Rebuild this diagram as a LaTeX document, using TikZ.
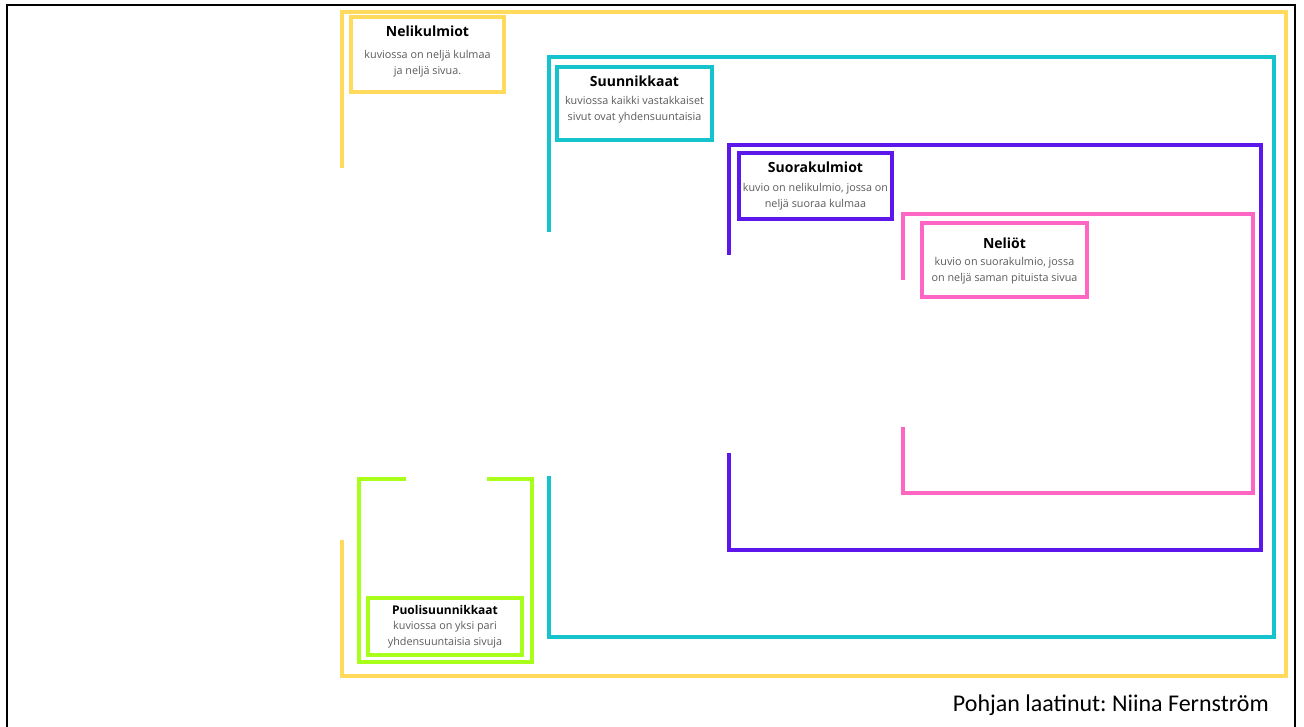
\documentclass[tikz,border=0pt]{standalone}
\usepackage{fontspec}
\setmainfont{Open Sans}
\newfontfamily\footfont{Carlito}
\frenchspacing
\definecolor{cyel}{HTML}{FFDA5C}
\definecolor{cteal}{HTML}{14C3CB}
\definecolor{cpurp}{HTML}{5E17EB}
\definecolor{cpink}{HTML}{FF66C4}
\definecolor{cgreen}{HTML}{A8FF1A}
\definecolor{cbody}{HTML}{5A5A5A}
\tikzset{
  frame/.style={line width=3pt, line cap=rect},
  box/.style={draw, line width=3pt, rectangle, inner sep=0pt},
  ttl/.style={font=\fontsize{10.5}{12}\selectfont\bfseries, text=black, inner sep=0pt},
  bdy/.style={font=\fontsize{8.1}{12}\selectfont, text=cbody, align=center, inner sep=0pt, anchor=north},
}
\begin{document}
\begin{tikzpicture}[x=0.75pt,y=-0.75pt]
\useasboundingbox (0,0) rectangle (1304,727);
% black frame
\draw[line width=2.2pt] (7,740) -- (7,5) -- (1295,5) -- (1295,740);
% yellow
\coordinate (y1) at (342,166); \coordinate (y2) at (342,542);
\draw[frame, cyel] (y1) -- (342,12) -- (1286,12) -- (1286,676) -- (342,676) -- (y2);
\node[box, draw=cyel, minimum width=153*0.75pt, minimum height=75*0.75pt] (bNel) at (427.5,54.5) {};
\node[ttl] (tNel) at (427.5,31) {Nelikulmiot};
\node[bdy] (dNel) at (427.5,50.5) {kuviossa on neljä kulmaa\\ja neljä sivua.};
% teal
\coordinate (t1) at (549,230); \coordinate (t2) at (549,478);
\draw[frame, cteal] (t1) -- (549,57) -- (1274,57) -- (1274,637) -- (549,637) -- (t2);
\node[box, draw=cteal, minimum width=155*0.75pt, minimum height=73*0.75pt] (bSuu) at (634.5,103.5) {};
\node[ttl] (tSuu) at (634.5,81) {Suunnikkaat};
\node[bdy] (dSuu) at (634.5,96.5) {kuviossa kaikki vastakkaiset\\sivut ovat yhdensuuntaisia};
% purple
\coordinate (p1) at (729,253); \coordinate (p2) at (729,455);
\draw[frame, cpurp] (p1) -- (729,145) -- (1261,145) -- (1261,550) -- (729,550) -- (p2);
\node[box, draw=cpurp, minimum width=153*0.75pt, minimum height=66*0.75pt] (bSuo) at (815.5,186) {};
\node[ttl] (tSuo) at (815.5,167) {Suorakulmiot};
\node[bdy] (dSuo) at (815.5,183.5) {kuvio on nelikulmio, jossa on\\neljä suoraa kulmaa};
% pink
\coordinate (k1) at (903,278); \coordinate (k2) at (903,429);
\draw[frame, cpink] (k1) -- (903,214) -- (1253,214) -- (1253,493) -- (903,493) -- (k2);
\node[box, draw=cpink, minimum width=165*0.75pt, minimum height=74*0.75pt] (bNe) at (1004.5,260) {};
\node[ttl] (tNe) at (1004.5,243) {Neliöt};
\node[bdy] (dNe) at (1004.5,257.5) {kuvio on suorakulmio, jossa\\on neljä saman pituista sivua};
% green
\coordinate (g1) at (404,479); \coordinate (g2) at (489,479);
\draw[frame, cgreen] (g1) -- (359,479) -- (359,662) -- (532,662) -- (532,479) -- (g2);
\node[box, draw=cgreen, minimum width=154*0.75pt, minimum height=57*0.75pt] (bPuo) at (445,626.5) {};
\node[ttl, font=\fontsize{9}{11}\selectfont\bfseries] (tPuo) at (445,610) {Puolisuunnikkaat};
\node[bdy] (dPuo) at (445,621.5) {kuviossa on yksi pari\\yhdensuuntaisia sivuja};
% footer
\node[font=\footfont\fontsize{18}{20}\selectfont, anchor=base east, inner sep=0pt] (foot) at (1269,711) {Pohjan laatinut: Niina Fernström};
\end{tikzpicture}
\end{document}
